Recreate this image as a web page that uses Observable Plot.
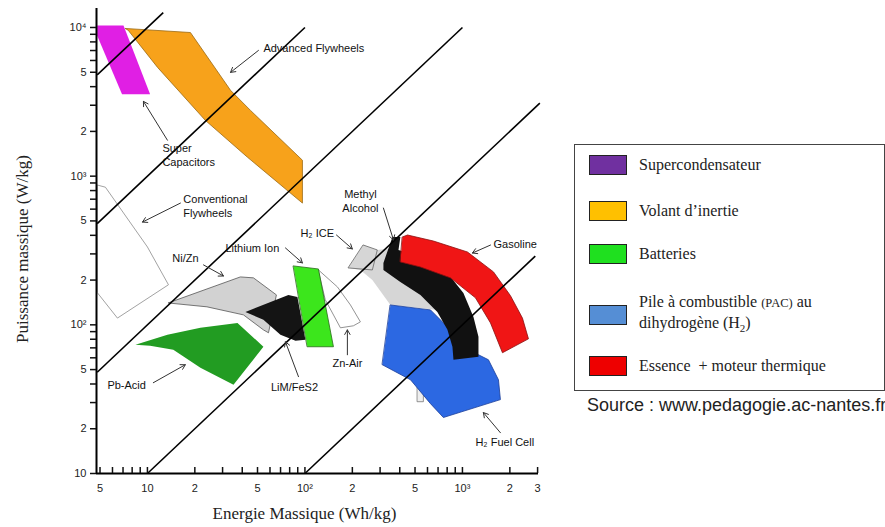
<!DOCTYPE html>
<html><head><meta charset="utf-8">
<script src="https://cdn.jsdelivr.net/npm/d3@7"></script>
<script src="https://cdn.jsdelivr.net/npm/@observablehq/plot@0.6"></script>
<style>
body{margin:0;background:#fff;}
#wrap{position:relative;width:885px;height:527px;overflow:hidden;}
#legend{position:absolute;left:574px;top:144px;width:311px;height:247px;border:1.5px solid #444;box-sizing:border-box;font-family:"Liberation Serif","Times New Roman",serif;font-size:16px;color:#222;}
.item{position:absolute;left:14px;display:flex;align-items:center;line-height:20px;}
.sw{width:38px;height:20px;border:1.5px solid #222;box-sizing:border-box;margin-right:12px;flex:none;}
.small{font-size:12.5px;}
#source{position:absolute;left:587px;top:396px;line-height:18px;font-family:"Liberation Sans",Arial,sans-serif;font-size:18px;color:#222;white-space:nowrap;}
</style></head>
<body><div id="wrap"></div>
<script>
// ---- Data (E in Wh/kg, P in W/kg) ----
const superCapacitors = [[4.8,10300],[7.05,10300],[10.4,3550],[6.9,3550],[4.8,8800]];
const advancedFlywheels = [[7.25,9850],[18.75,9250],[33.7,3780],[45.1,2770],[96.4,1280],[96.4,659],[43.2,1340],[23.3,2375],[11.6,5390],[7.57,9550]];
const conventionalFlywheels = [[4.82,871],[5.41,843],[10,334],[13.6,186],[6.45,111],[4.82,164]];
const niZn = [[13.6,140.6],[38.9,210],[47.1,207],[65.9,159],[58.7,88.4],[54.5,92.5],[40.7,116.7],[24.0,132]];
const pbAcid = [[8.39,73.4],[13.4,85.7],[21.7,95.5],[37.3,103],[54.5,71.2],[35.2,39.6],[21.7,51.4],[14.6,67.9],[10.4,72.3]];
const limFeS2 = [[41.9,122],[78.5,159],[89.6,154],[100.7,79.3],[87.1,78.1],[69.9,85.7],[54.5,108]];
const lithiumIon = [[84.5,249],[121.8,237.5],[151.7,71.2],[103.7,71.2]];
const znAir = [[121.8,234],[160.7,180],[194.5,136],[225,104.7],[203,98.5],[168,95.5],[134.9,147]];
const h2IceBand = [[188.8,241.4],[235,344],[288,319],[359.5,329],[627,186],[803,108],[803,92.5],[693,126],[468,132],[349,136],[268,200],[225,234]];
const h2IceQuad = [[235,344],[288,319],[268,234],[188.8,241.4]];
const h2IceSmall = [[518,38.4],[565,38.4],[565,30.4],[518,30.4]];
const h2FuelCell = [[349,136],[627,126],[839,92.5],[1264,62.9],[1462,58.2],[1693,42.7],[1742,31.4],[757,23.8],[627,29.5],[468,42.7],[310,53.9]];
const methylAlcohol = [[359.5,390],[403.5,390],[392.5,319],[565,282],[803,223],[1014,164],[1175,113],[1264,83],[1264,61],[877,58.2],[864,71.2],[803,92.5],[693,122],[541,159],[403.5,194.5],[315,234],[315,261]];
const gasoline = [[416,390],[448,402],[655,366],[1076,309],[1574,227],[2018,157],[2404,111],[2625,80.5],[1795,64.9],[1507,103],[1209,152],[839,207],[541,245],[403.5,265]];

// constant-time reference lines P = k·E, drawn between E0 and E1
const lineK  = [1000, 100, 10, 1, 0.1];
const lineE0 = [4.8, 4.8, 4.8, 10, 100];
const lineE1 = [12.6, 100, 1000, 3100, 2900];

// annotations
const labelsStart = [
  ["Advanced Flywheels", 54.5, 7350],
  ["Super\nCapacitors", 12.45, 1405],
  ["Conventional\nFlywheels", 16.9, 639],
  ["Ni/Zn", 14.4, 282],
  ["Lithium Ion", 31.3, 334],
  ["H₂ ICE", 93.6, 421],
  ["Gasoline", 1574, 355],
  ["Pb-Acid", 5.57, 39.6],
  ["H₂ Fuel Cell", 1209, 16.4]
];
const labelsMiddle = [
  ["Methyl\nAlcohol", 225, 690],
  ["Zn-Air", 186, 55.6],
  ["LiM/FeS2", 85.8, 38.4]
];
const arrows = [
  [50.7,7010,33.7,4990],[13.4,1745,9.43,3186],[16.2,659,9.3,491],[22.7,253,30.4,213],
  [75.2,329,96.4,261],[158.5,402,200,324],[315,610,365,372],[1507,344,1157,304],
  [186,62.9,186,92.5],[91,44.8,75.2,76.9],[10.9,40.8,17.4,53.9],[1742,18.8,1358,25.7]
];

// axes
const xTicksAll = [5,6,7,8,9,10,20,30,40,50,60,70,80,90,100,200,300,400,500,600,700,800,900,1000,2000,3000];
const xMajor = [5,10,20,50,100,200,500,1000,2000,3000];
const xMajorLabels = ["5","10","2","5","10²","2","5","10³","2","3"];
const yTicksAll = [10,20,30,40,50,60,70,80,90,100,200,300,400,500,600,700,800,900,1000,2000,3000,4000,5000,6000,7000,8000,9000,10000];
const yMajor = [10,20,50,100,200,500,1000,2000,5000,10000];
const yMajorLabels = ["10","2","5","10²","2","5","10³","2","5","10⁴"];

const legendLabels = ["Supercondensateur","Volant d’inertie","Batteries","Pile à combustible <span class='small'>(PAC)</span> au<br>dihydrogène (H<sub style='font-size:11px'>2</sub>)","Essence&nbsp; + moteur thermique"];
const legendColors = ["#7030a0","#ffc000","#1fe01f","#558ed5","#ee0000"];
const sourceText = "Source : www.pedagogie.ac-nantes.fr";

// ---- Drawing ----
const toRows = pts => pts.map(([e,p]) => ({e,p}));
const poly = (pts, opts) => Plot.line(toRows(pts), {x:"e", y:"p", curve:"linear-closed", strokeWidth:0.8, ...opts});
const lines = lineK.map((k,i)=>({k, e0:lineE0[i], e1:lineE1[i]}));
const arr = arrows.map(([x1,y1,x2,y2])=>({x1,y1,x2,y2}));
const lbl = l => l.map(([t,e,p])=>({t,e,p}));

const fontSans = "Liberation Sans, Arial, sans-serif";
const chart = Plot.plot({
  width: 885, height: 527,
  marginLeft: 96, marginRight: 347, marginTop: 8, marginBottom: 54,
  x: {type:"log", domain:[4.75,3040]},
  y: {type:"log", domain:[10,13420]},
  style: {fontFamily: fontSans, fontSize:"11px", color:"#111", background:"transparent"},
  marks: [
    poly(conventionalFlywheels, {fill:"white", stroke:"#8a8a8a"}),
    poly(advancedFlywheels, {fill:"#f7a21b", stroke:"#9a6a14"}),
    poly(superCapacitors, {fill:"#e01fe4", stroke:"none"}),
    poly(h2IceBand, {fill:"#d6d6d6", stroke:"none"}),
    poly(h2IceQuad, {fill:"#d6d6d6", stroke:"#666"}),
    poly(h2IceSmall, {fill:"#eee", stroke:"#777"}),
    poly(znAir, {fill:"white", stroke:"#777"}),
    poly(niZn, {fill:"#d2d2d2", stroke:"#555"}),
    poly(pbAcid, {fill:"#229c22", stroke:"none"}),
    poly(limFeS2, {fill:"#141414", stroke:"none"}),
    poly(lithiumIon, {fill:"#3ce61c", stroke:"#2a6a1a"}),
    poly(h2FuelCell, {fill:"#2c68e2", stroke:"#1a3d99"}),
    poly(methylAlcohol, {fill:"#111", stroke:"none"}),
    poly(gasoline, {fill:"#f01515", stroke:"#8a1010"}),
    Plot.link(lines, {x1:"e0", y1:d=>d.k*d.e0, x2:"e1", y2:d=>d.k*d.e1, stroke:"#000", strokeWidth:1.6}),
    Plot.arrow(arr, {x1:"x1", y1:"y1", x2:"x2", y2:"y2", stroke:"#333", strokeWidth:1, headLength:8}),
    Plot.text(lbl(labelsStart), {x:"e", y:"p", text:"t", textAnchor:"start", lineHeight:1.3, fontSize:11, fill:"#111"}),
    Plot.text(lbl(labelsMiddle), {x:"e", y:"p", text:"t", textAnchor:"middle", lineHeight:1.3, fontSize:11, fill:"#111"}),
    Plot.ruleY([10], {stroke:"#000", strokeWidth:2}),
    Plot.ruleX([4.75], {stroke:"#000", strokeWidth:2}),
    Plot.axisY({ticks:yTicksAll, tickSize:6, strokeWidth:1.5, tickFormat:()=>"", label:null}),
    Plot.axisX({ticks:xTicksAll, tickSize:-6, strokeWidth:1.5, tickFormat:()=>"", label:null}),
    Plot.text(xMajor, {x:d=>d, frameAnchor:"bottom", lineAnchor:"middle", dy:15, text:(d,i)=>xMajorLabels[i], fontSize:11, fill:"#222"}),
    Plot.text(yMajor, {y:d=>d, frameAnchor:"left", dx:-10, textAnchor:"end", text:(d,i)=>yMajorLabels[i], fontSize:11, fill:"#222"}),
    Plot.text(["Energie Massique (Wh/kg)"], {frameAnchor:"bottom", textAnchor:"middle", lineAnchor:"middle", dx:-13, dy:40, fontFamily:"Liberation Serif, serif", fontSize:17, fill:"#222"}),
    Plot.text(["Puissance massique (W/kg)"], {frameAnchor:"left", textAnchor:"middle", lineAnchor:"middle", rotate:-90, dx:-74, dy:8, fontFamily:"Liberation Serif, serif", fontSize:17, fill:"#222"})
  ]
});
const wrap = document.getElementById("wrap");
wrap.appendChild(chart);

const legend = document.createElement("div");
legend.id = "legend";
const rowCenters = [20, 66, 109, 167, 221];
legendLabels.forEach((t,i)=>{
  const it = document.createElement("div");
  it.className = "item";
  it.innerHTML = `<div class="sw" style="background:${legendColors[i]}"></div><div>${t}</div>`;
  legend.appendChild(it);
  const h = i === 3 ? 40 : 20;
  it.style.top = (rowCenters[i] - h/2) + "px";
});
wrap.appendChild(legend);
const src = document.createElement("div");
src.id = "source"; src.textContent = sourceText;
wrap.appendChild(src);
</script>
</body></html>
